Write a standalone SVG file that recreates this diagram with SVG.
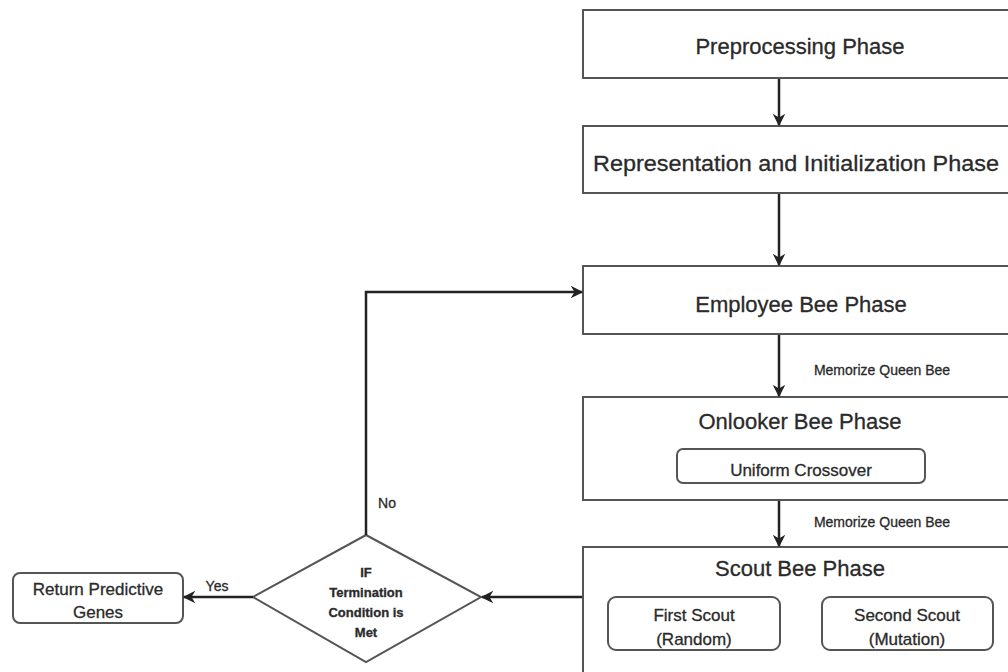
<svg xmlns="http://www.w3.org/2000/svg" width="1008" height="672" viewBox="0 0 1008 672">
  <defs>
    <marker id="arrow" viewBox="0 0 10 10" refX="9" refY="5" markerWidth="5" markerHeight="5" orient="auto" markerUnits="strokeWidth">
      <path d="M0,0 L10,5 L0,10 L3,5 z" fill="#222"/>
    </marker>
  </defs>
  <style>
    .box { fill: #fff; stroke: #555; stroke-width: 2; }
    .sub { fill: #fff; stroke: #555; stroke-width: 2; }
    .t { font-family: "Liberation Sans", Arial, sans-serif; fill: #2a2a2a; text-anchor: middle; stroke: #2a2a2a; stroke-width: 0.3; }
    .big { font-size: 22px; }
    .mid { font-size: 17px; }
    .small { font-size: 14px; }
    .dec { font-size: 13px; font-weight: bold; }
    .conn { fill: none; stroke: #222; stroke-width: 2.5; marker-end: url(#arrow); }
  </style>
  <rect width="1008" height="672" fill="#fff"/>

  <g id="preprocessing">
    <rect class="box" x="583" y="10" width="440" height="68"/>
    <text class="t big" x="800" y="54">Preprocessing Phase</text>
  </g>

  <g id="representation">
    <rect class="box" x="583" y="126" width="440" height="67"/>
    <text class="t big" x="796" y="171" textLength="406" lengthAdjust="spacingAndGlyphs">Representation and Initialization Phase</text>
  </g>

  <g id="employee">
    <rect class="box" x="583" y="266" width="440" height="68"/>
    <text class="t big" x="801" y="312">Employee Bee Phase</text>
  </g>

  <g id="onlooker">
    <rect class="box" x="583" y="397" width="440" height="103"/>
    <text class="t big" x="800" y="429">Onlooker Bee Phase</text>
    <rect class="sub" x="677" y="449" width="248" height="34" rx="6"/>
    <text class="t mid" x="801" y="476">Uniform Crossover</text>
  </g>

  <g id="scout">
    <rect class="box" x="583" y="547" width="440" height="140"/>
    <text class="t big" x="800" y="576">Scout Bee Phase</text>
    <rect class="sub" x="608" y="597" width="172" height="53" rx="8"/>
    <text class="t mid" x="694" y="621">First Scout</text>
    <text class="t mid" x="694" y="645">(Random)</text>
    <rect class="sub" x="822" y="597" width="171" height="53" rx="8"/>
    <text class="t mid" x="907" y="621">Second Scout</text>
    <text class="t mid" x="907" y="645">(Mutation)</text>
  </g>

  <g id="decision">
    <polygon class="sub" points="366,535 481,597 366,662 253,597"/>
    <text class="t dec" x="366" y="577">IF</text>
    <text class="t dec" x="366" y="597">Termination</text>
    <text class="t dec" x="366" y="617">Condition is</text>
    <text class="t dec" x="366" y="637">Met</text>
  </g>

  <g id="result">
    <rect class="sub" x="13" y="573" width="170" height="50" rx="7"/>
    <text class="t mid" x="98" y="595">Return Predictive</text>
    <text class="t mid" x="98" y="618">Genes</text>
  </g>

  <g id="connectors">
    <line class="conn" x1="779" y1="79" x2="779" y2="125"/>
    <line class="conn" x1="779" y1="194" x2="779" y2="265"/>
    <line class="conn" x1="779" y1="335" x2="779" y2="396"/>
    <line class="conn" x1="779" y1="501" x2="779" y2="546"/>
    <line class="conn" x1="582" y1="597" x2="482" y2="597"/>
    <line class="conn" x1="253" y1="597" x2="184" y2="597"/>
    <polyline class="conn" points="366,535 366,292 582,292"/>
    <text class="t small" x="882" y="375">Memorize Queen Bee</text>
    <text class="t small" x="882" y="527">Memorize Queen Bee</text>
    <text class="t small" x="387" y="508">No</text>
    <text class="t small" x="217" y="591">Yes</text>
  </g>
</svg>
